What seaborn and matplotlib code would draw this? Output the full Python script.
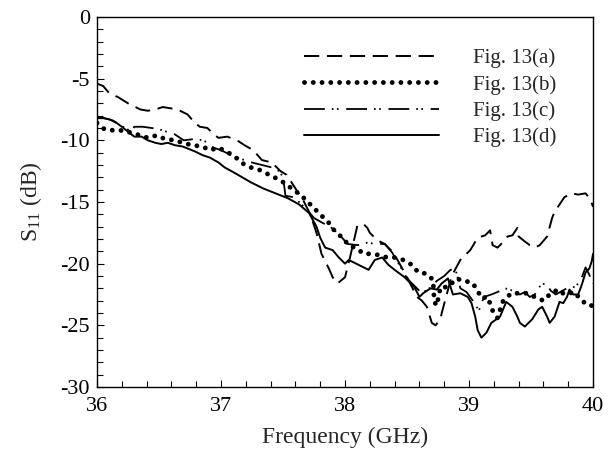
import numpy as np
import pandas as pd
import matplotlib
matplotlib.use("Agg")
import matplotlib.pyplot as plt
import seaborn as sns

# ---- data ----
freq_a = [36.00, 36.05, 36.10, 36.17, 36.25, 36.35, 36.41, 36.47, 36.53, 36.59, 36.65, 36.73, 36.79, 36.83,
          36.89, 36.94, 36.98, 37.05, 37.13, 37.19, 37.26, 37.33, 37.41, 37.48, 37.53, 37.60, 37.66, 37.72,
          37.77, 37.81, 37.85, 37.87, 37.90, 37.94, 38.00, 38.04, 38.10, 38.15, 38.18, 38.20, 38.26, 38.32,
          38.39, 38.44, 38.50, 38.54, 38.58, 38.62, 38.66, 38.70, 38.73, 38.77, 38.78, 38.82, 38.86, 38.93,
          38.97, 39.01, 39.07, 39.13, 39.17, 39.19, 39.23, 39.27, 39.31, 39.35, 39.39, 39.40, 39.45, 39.49,
          39.53, 39.57, 39.63, 39.67, 39.69, 39.73, 39.77, 39.83, 39.88, 39.94, 39.98, 40.00]
s11_a = [-5.4, -5.6, -6.2, -6.5, -7.0, -7.5, -7.6, -7.5, -7.3, -7.4, -7.5, -7.9, -8.6, -8.9,
         -9.0, -9.5, -9.8, -9.7, -10.0, -10.4, -10.8, -11.6, -11.8, -12.5, -12.8, -13.9, -14.8, -16.0,
         -17.5, -19.2, -20.0, -20.4, -21.1, -21.6, -21.1, -19.5, -16.9, -16.8, -17.1, -17.5, -18.1, -18.4,
         -19.1, -20.0, -21.1, -21.9, -22.7, -23.0, -23.5, -24.8, -25.0, -24.5, -24.0, -22.5, -21.0, -19.7,
         -19.3, -18.9, -17.9, -17.7, -17.3, -18.5, -18.7, -18.3, -17.8, -17.7, -17.1, -17.8, -18.2, -18.5,
         -18.7, -18.5, -17.8, -16.3, -15.8, -15.2, -14.6, -14.3, -14.4, -14.3, -14.8, -15.4]

freq_b = [36.00, 36.06, 36.14, 36.21, 36.28, 36.35, 36.41, 36.48, 36.55, 36.63, 36.69, 36.77, 36.85, 36.91,
          36.98, 37.06, 37.12, 37.18, 37.24, 37.31, 37.37, 37.45, 37.52, 37.58, 37.64, 37.70, 37.76, 37.81,
          37.87, 37.92, 37.98, 38.03, 38.10, 38.15, 38.19, 38.28, 38.34, 38.40, 38.47, 38.54, 38.59, 38.65,
          38.71, 38.72, 38.74, 38.77, 38.83, 38.90, 38.95, 39.02, 39.06, 39.10, 39.15, 39.19, 39.23, 39.27,
          39.34, 39.41, 39.47, 39.53, 39.60, 39.66, 39.72, 39.77, 39.85, 39.90, 39.96, 40.00]
s11_b = [-8.6, -9.1, -9.2, -9.2, -9.4, -9.6, -9.8, -9.6, -9.9, -10.0, -10.2, -10.4, -10.5, -10.8,
         -10.6, -11.0, -11.4, -11.9, -12.2, -12.4, -12.7, -13.1, -13.5, -14.0, -14.4, -15.0, -15.6, -16.1,
         -16.7, -17.4, -17.9, -18.5, -18.8, -19.2, -19.2, -19.3, -19.5, -19.5, -19.7, -20.1, -20.7, -20.8,
         -21.3, -23.1, -23.4, -21.9, -21.9, -21.2, -21.4, -21.5, -22.0, -22.8, -22.7, -23.8, -24.4, -23.1,
         -22.4, -22.4, -22.4, -22.7, -23.0, -22.4, -22.1, -22.5, -22.3, -22.9, -23.4, -23.4]

freq_c = [36.00, 36.06, 36.13, 36.19, 36.28, 36.30, 36.37, 36.44, 36.50, 36.56, 36.61, 36.70, 36.78, 36.86,
          36.94, 37.00, 37.08, 37.16, 37.25, 37.33, 37.41, 37.47, 37.50, 37.52, 37.58, 37.63, 37.69, 37.75,
          37.82, 37.88, 37.95, 38.02, 38.10, 38.18, 38.25, 38.32, 38.38, 38.45, 38.50, 38.56, 38.62, 38.68,
          38.74, 38.80, 38.85, 38.89, 38.93, 38.98, 39.03, 39.08, 39.12, 39.18, 39.23, 39.29, 39.33, 39.41,
          39.45, 39.49, 39.53, 39.58, 39.62, 39.66, 39.70, 39.77, 39.82, 39.86, 39.91, 39.94, 39.97, 40.00]
s11_c = [-8.2, -8.2, -8.4, -8.8, -9.3, -8.9, -8.9, -9.0, -9.1, -9.3, -9.4, -10.0, -9.9, -10.0,
         -10.6, -10.8, -11.2, -11.5, -11.8, -12.0, -12.2, -12.5, -13.0, -14.5, -14.6, -15.0, -15.6, -16.3,
         -16.7, -17.0, -17.6, -18.4, -18.5, -18.3, -18.4, -18.4, -19.1, -20.3, -21.2, -21.8, -22.4, -22.0,
         -21.4, -21.0, -20.5, -20.4, -22.0, -22.3, -23.0, -23.8, -22.7, -22.5, -22.3, -22.0, -22.1, -22.5,
         -22.3, -22.7, -22.5, -21.7, -21.6, -22.2, -22.5, -22.1, -21.9, -21.9, -21.1, -20.3, -20.9, -21.6]

freq_d = [36.00, 36.05, 36.10, 36.16, 36.20, 36.25, 36.30, 36.36, 36.41, 36.47, 36.52, 36.57, 36.63, 36.69,
          36.74, 36.79, 36.85, 36.91, 36.98, 37.03, 37.12, 37.24, 37.34, 37.44, 37.54, 37.63, 37.71, 37.77,
          37.80, 37.84, 37.90, 37.95, 38.00, 38.03, 38.11, 38.19, 38.24, 38.30, 38.35, 38.40, 38.48, 38.56,
          38.60, 38.63, 38.69, 38.74, 38.78, 38.83, 38.87, 38.93, 38.99, 39.02, 39.05, 39.07, 39.10, 39.14,
          39.18, 39.25, 39.30, 39.35, 39.39, 39.41, 39.45, 39.51, 39.56, 39.59, 39.63, 39.65, 39.69, 39.73,
          39.76, 39.79, 39.81, 39.84, 39.88, 39.91, 39.94, 39.97, 39.99, 40.00]
s11_d = [-8.2, -8.2, -8.3, -8.6, -8.9, -9.3, -9.7, -9.7, -10.0, -10.2, -10.3, -10.2, -10.4, -10.5,
         -10.7, -10.9, -11.2, -11.4, -11.8, -12.2, -12.7, -13.4, -13.9, -14.3, -14.7, -15.2, -15.9, -17.0,
         -17.9, -18.7, -18.9, -19.5, -20.0, -19.7, -20.1, -20.5, -19.7, -19.5, -20.1, -20.5, -21.1, -21.9,
         -22.7, -22.4, -22.0, -22.1, -21.6, -21.2, -22.5, -22.4, -22.7, -23.2, -24.3, -25.4, -26.0, -25.6,
         -24.8, -24.3, -23.1, -23.5, -24.3, -24.8, -25.1, -24.5, -23.7, -23.5, -24.3, -24.8, -24.3, -23.1,
         -23.2, -22.7, -22.1, -22.5, -22.5, -21.7, -20.7, -20.4, -19.8, -19.2]

labels = ["Fig. 13(a)", "Fig. 13(b)", "Fig. 13(c)", "Fig. 13(d)"]
x_ticks = [36, 37, 38, 39, 40]
y_ticks = [0, -5, -10, -15, -20, -25, -30]

# ---- style ----
sns.set_theme(style="white")
plt.rcParams["font.family"] = ["Liberation Serif", "DejaVu Serif"]
plt.rcParams["mathtext.fontset"] = "custom"
plt.rcParams["mathtext.rm"] = "Liberation Serif"
plt.rcParams["mathtext.it"] = "Liberation Serif:italic"
plt.rcParams["mathtext.default"] = "rm"
plt.rcParams["lines.scale_dashes"] = False
plt.rcParams["axes.unicode_minus"] = False

fig = plt.figure(figsize=(6.16, 4.57), dpi=100)
ax = fig.add_axes([0.1575, 0.1532, 0.8052, 0.8096])

styles = [
    dict(linestyle=(0, (11, 5.5)), linewidth=1.4),
    dict(linestyle=(0, (0.01, 6.3)), linewidth=3.5, dash_capstyle="round", solid_capstyle="round"),
    dict(linestyle=(0, (15, 5, 1.2, 2.5, 1.2, 5.5)), linewidth=1.3),
    dict(linestyle="-", linewidth=1.4),
]
series = [(freq_a, s11_a), (freq_b, s11_b), (freq_c, s11_c), (freq_d, s11_d)]

for (fx, fy), lab, st in zip(series, labels, styles):
    df = pd.DataFrame({"Frequency": fx, "S11": fy})
    sns.lineplot(data=df, x="Frequency", y="S11", ax=ax, color="black",
                 estimator=None, sort=False, label=lab, **st)

ax.set_xlim(36, 40)
ax.set_ylim(-30, 0)
ax.set_xticks(x_ticks)
ax.set_yticks(y_ticks)
ax.set_xticks(np.arange(36, 40.01, 0.2), minor=True)
ax.set_yticks(np.arange(-30, 0.01, 1), minor=True)
ax.tick_params(axis="both", which="both", direction="in", top=False, right=False,
               left=True, bottom=True, colors="black", labelsize=16, width=0.8)
ax.tick_params(axis="x", which="major", length=5, pad=7)
ax.tick_params(axis="y", which="major", length=5, pad=5)
ax.tick_params(axis="both", which="minor", length=4)
for sp in ax.spines.values():
    sp.set_color("black")
    sp.set_linewidth(1.0)

ax.set_xlabel("Frequency (GHz)", fontsize=17, labelpad=8)
ax.set_ylabel(r"S$_{11}$ (dB)", fontsize=17, labelpad=12)

leg = ax.legend(loc="upper left", bbox_to_anchor=(0.417, 0.915), frameon=False,
                fontsize=15, handlelength=6.5, handletextpad=1.6, labelspacing=0.32,
                borderpad=0, borderaxespad=0)
for h in leg.get_lines():
    h.set_color("black")

fig.savefig("out.png", dpi=100)
